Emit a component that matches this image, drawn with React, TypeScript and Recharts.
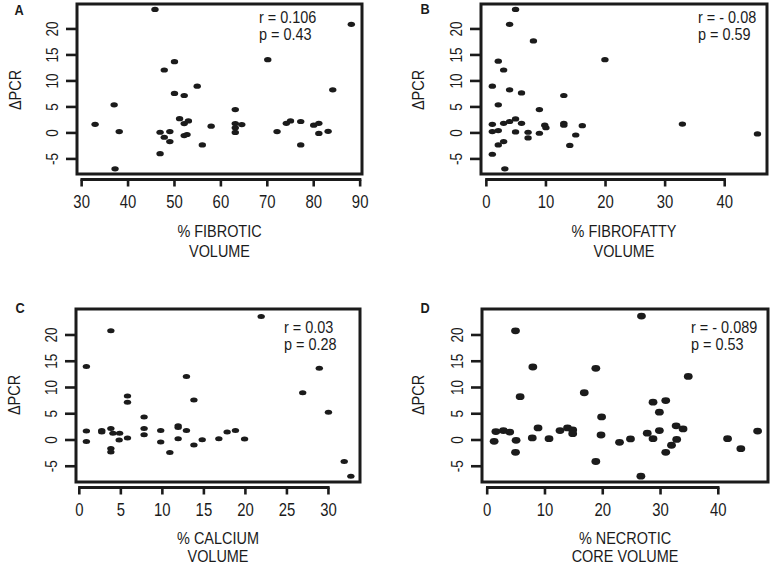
import React from 'react';
import { ScatterChart, Scatter, XAxis, YAxis, ReferenceArea } from 'recharts';

const INK = '#1b1b1b';
const SANS = "'Liberation Sans', Arial, Helvetica, sans-serif";
const SQUEEZE = 0.85; // the figure's lettering is condensed

const deltaTicks = [-5, 0, 5, 10, 15, 20];

// A - fibrotic
const fibroticTicks = [30, 40, 50, 60, 70, 80, 90];
const fibroticPct = [45.8, 88.1, 50.0, 47.8, 70.1, 54.9, 50.0, 52.1, 84.1, 37.0, 63.1, 32.9, 38.1, 46.9, 49.0, 47.8, 49.0, 51.1, 52.1, 53.0, 52.1, 52.7, 46.9, 37.2, 56.0, 57.9, 63.1, 63.1, 63.1, 64.5, 72.1, 74.1, 75.0, 77.2, 77.2, 80.0, 81.1, 81.1, 83.1];
const fibroticDelta = [23.75, 20.9, 13.7, 12.1, 14.1, 9.0, 7.6, 7.2, 8.3, 5.4, 4.5, 1.66, 0.26, 0.13, 0.26, -0.83, -1.66, 2.75, 1.8, 2.3, -0.5, -0.3, -4.0, -6.9, -2.3, 1.3, 1.8, 1.0, 0.1, 1.6, 0.26, 1.85, 2.3, 2.2, -2.3, 1.5, 1.85, -0.1, 0.3];

// B - fibrofatty
const fibrofattyTicks = [0, 10, 20, 30, 40];
const fibrofattyPct = [4.9, 3.9, 7.9, 19.9, 2.0, 2.9, 1.0, 3.9, 5.9, 13.0, 2.0, 8.9, 1.0, 2.9, 3.9, 4.9, 5.9, 1.0, 2.0, 4.9, 7.0, 7.0, 8.9, 9.8, 10.0, 13.0, 13.0, 16.1, 15.0, 14.0, 2.0, 2.9, 1.0, 3.1, 32.9, 45.5];
const fibrofattyDelta = [23.75, 20.9, 17.7, 14.1, 13.8, 12.1, 9.0, 8.3, 7.7, 7.2, 5.4, 4.5, 1.66, 1.85, 2.2, 2.7, 1.85, 0.26, 0.45, 0.2, 0.13, -0.96, -0.06, 1.5, 1.0, 1.85, 1.5, 1.4, -0.4, -2.4, -2.3, -1.66, -4.1, -6.9, 1.7, -0.2];

// C - calcium
const calciumTicks = [0, 5, 10, 15, 20, 25, 30];
const calciumPct = [21.9, 3.8, 0.85, 28.9, 12.9, 26.9, 5.8, 5.8, 13.8, 30.0, 7.8, 0.85, 0.85, 2.7, 2.7, 3.8, 4.05, 4.85, 4.8, 3.8, 3.8, 5.8, 7.8, 7.8, 9.8, 9.8, 10.9, 11.9, 11.9, 11.9, 12.9, 13.8, 14.8, 16.8, 17.8, 18.8, 19.9, 31.9, 32.7];
const calciumDelta = [23.5, 20.8, 14.0, 13.65, 12.1, 9.0, 8.4, 7.2, 7.6, 5.3, 4.4, 1.7, -0.3, 1.8, 1.5, 2.2, 1.3, 1.3, 0.0, -1.6, -2.3, 0.4, 2.2, 1.0, 1.8, -0.4, -2.4, 2.7, 2.4, 0.25, 1.8, -0.95, 0.06, 0.25, 1.5, 1.8, 0.2, -4.1, -6.9];

// D - necrotic core
const necroticTicks = [0, 10, 20, 30, 40];
const necroticPct = [26.7, 4.9, 7.9, 18.8, 34.8, 16.8, 5.7, 28.7, 30.9, 29.8, 19.8, 1.2, 1.5, 2.8, 3.9, 5.0, 4.9, 7.8, 8.8, 10.7, 12.6, 13.9, 14.8, 14.8, 19.7, 18.8, 22.9, 24.8, 26.6, 27.7, 28.7, 29.8, 30.9, 31.9, 32.7, 32.8, 33.9, 41.6, 43.9, 46.8];
const necroticDelta = [23.6, 20.8, 13.9, 13.65, 12.1, 9.0, 8.25, 7.2, 7.5, 5.3, 4.4, -0.25, 1.6, 1.8, 1.5, -0.06, -2.35, 0.4, 2.3, 0.25, 1.8, 2.3, 1.9, 1.2, 0.95, -4.1, -0.44, 0.2, -6.9, 1.3, 0.25, 1.8, -2.35, -1.0, 2.7, 0.1, 2.1, 0.25, -1.65, 1.7];

const panels = [
  {
    letter: 'A', xs: fibroticPct, ys: fibroticDelta, xTicks: fibroticTicks,
    xDomain: [29.0, 90.4], yDomain: [-7.9, 24.8],
    title: ['% FIBROTIC', 'VOLUME'], stats: ['r = 0.106', 'p = 0.43'],
    left: 0, top: 0, width: 385, height: 285,
    plot: { l: 77, t: 4, r: 362, b: 174 }, titleY: [231, 251],
    letterPos: [19, 10], ylabPos: [15, 90], statsPos: [259, 17], rx: 3.7, ry: 2.6,
  },
  {
    letter: 'B', xs: fibrofattyPct, ys: fibrofattyDelta, xTicks: fibrofattyTicks,
    xDomain: [-0.9, 47.1], yDomain: [-7.9, 24.8],
    title: ['% FIBROFATTY', 'VOLUME'], stats: ['r = - 0.08', 'p = 0.59'],
    left: 385, top: 0, width: 386, height: 285,
    plot: { l: 96, t: 4, r: 382, b: 174 }, titleY: [231, 251],
    letterPos: [40, 9], ylabPos: [33, 90], statsPos: [313, 17], rx: 3.7, ry: 2.6,
  },
  {
    letter: 'C', xs: calciumPct, ys: calciumDelta, xTicks: calciumTicks,
    xDomain: [-0.4, 33.8], yDomain: [-8.0, 24.95],
    title: ['% CALCIUM', 'VOLUME'], stats: ['r = 0.03', 'p = 0.28'],
    left: 0, top: 285, width: 385, height: 280,
    plot: { l: 76, t: 24, r: 360, b: 197 }, titleY: [253, 271],
    letterPos: [20, 23], ylabPos: [14, 110], statsPos: [284, 42], rx: 3.7, ry: 2.5,
  },
  {
    letter: 'D', xs: necroticPct, ys: necroticDelta, xTicks: necroticTicks,
    xDomain: [-0.9, 48.6], yDomain: [-8.0, 24.95],
    title: ['% NECROTIC', 'CORE VOLUME'], stats: ['r = - 0.089', 'p = 0.53'],
    left: 385, top: 285, width: 386, height: 280,
    plot: { l: 97, t: 24, r: 383, b: 197 }, titleY: [253, 271],
    letterPos: [40, 23], ylabPos: [33, 110], statsPos: [306, 42], rx: 4.4, ry: 3.4,
  },
];

// condensed-looking text: Liberation Sans squeezed horizontally
function Label({ x, y, size, anchor = 'middle', vertical = false, bold = false, children }: any) {
  const t = vertical
    ? `translate(${x} ${y}) rotate(-90) scale(${SQUEEZE} 1)`
    : `translate(${x} ${y}) scale(${SQUEEZE} 1)`;
  return (
    <text transform={t} x={0} y={0} textAnchor={anchor} dominantBaseline="central"
      fontFamily={SANS} fontSize={size} fontWeight={bold ? 'bold' : 'normal'} fill={INK}>
      {children}
    </text>
  );
}

function Panel({ cfg }: { cfg: any }) {
  const { plot, width, height } = cfg;
  const data = cfg.xs.map((x: number, i: number) => ({ x, y: cfg.ys[i] }));
  const pxX = (plot.r - plot.l) / (cfg.xDomain[1] - cfg.xDomain[0]);
  const axisY = plot.b + 5.5;
  const span = (cfg.xTicks[cfg.xTicks.length - 1] - cfg.xTicks[0]) * pxX;

  const xTick = (p: any) => (
    <g>
      {p.index === 0 && (
        <line x1={p.x - 1.2} x2={p.x + span + 1.2} y1={axisY} y2={axisY} stroke={INK} strokeWidth={3} />
      )}
      <line x1={p.x} x2={p.x} y1={axisY} y2={axisY + 7} stroke={INK} strokeWidth={2.6} />
      <Label x={p.x} y={plot.b + 28} size={17.5}>{p.payload.value}</Label>
    </g>
  );

  const yTick = (p: any) => (
    <g>
      <line x1={plot.l - 11} x2={plot.l} y1={p.y} y2={p.y} stroke={INK} strokeWidth={2.6} />
      <Label x={plot.l - 24} y={p.y} size={16} vertical>{p.payload.value}</Label>
    </g>
  );

  const dot = (p: any) => <ellipse cx={p.cx} cy={p.cy} rx={cfg.rx} ry={cfg.ry} fill={INK} />;
  const titleX = (plot.l + plot.r) / 2;

  return (
    <div style={{ position: 'absolute', left: cfg.left, top: cfg.top, width, height }}>
      <ScatterChart width={width} height={height} margin={{ top: plot.t, right: width - plot.r, bottom: 0, left: 0 }}>
        <XAxis type="number" dataKey="x" domain={cfg.xDomain} ticks={cfg.xTicks} interval={0}
          allowDataOverflow height={height - plot.b} axisLine={false} tickLine={false} tick={xTick} />
        <YAxis type="number" dataKey="y" domain={cfg.yDomain} ticks={deltaTicks} interval={0}
          allowDataOverflow width={plot.l} axisLine={false} tickLine={false} tick={yTick} />
        <Scatter data={data} shape={dot} isAnimationActive={false} />
        <ReferenceArea x1={cfg.xDomain[0]} x2={cfg.xDomain[1]} y1={cfg.yDomain[0]} y2={cfg.yDomain[1]}
          fill="none" fillOpacity={0} stroke={INK} strokeWidth={3} ifOverflow="visible" />
      </ScatterChart>
      <svg width={width} height={height} style={{ position: 'absolute', left: 0, top: 0, pointerEvents: 'none' }}>
        <Label x={cfg.letterPos[0]} y={cfg.letterPos[1]} size={15} bold>{cfg.letter}</Label>
        <Label x={cfg.ylabPos[0]} y={cfg.ylabPos[1]} size={17} vertical>ΔPCR</Label>
        {cfg.stats.map((s: string, i: number) => (
          <Label key={s} x={cfg.statsPos[0]} y={cfg.statsPos[1] + i * 17.5} size={17} anchor="start">{s}</Label>
        ))}
        {cfg.title.map((s: string, i: number) => (
          <Label key={s} x={titleX} y={cfg.titleY[i]} size={17}>{s}</Label>
        ))}
      </svg>
    </div>
  );
}

export default function App() {
  return (
    <div style={{ position: 'absolute', left: 0, top: 0, width: 771, height: 565, background: '#fff' }}>
      {panels.map((p) => <Panel key={p.letter} cfg={p} />)}
    </div>
  );
}
